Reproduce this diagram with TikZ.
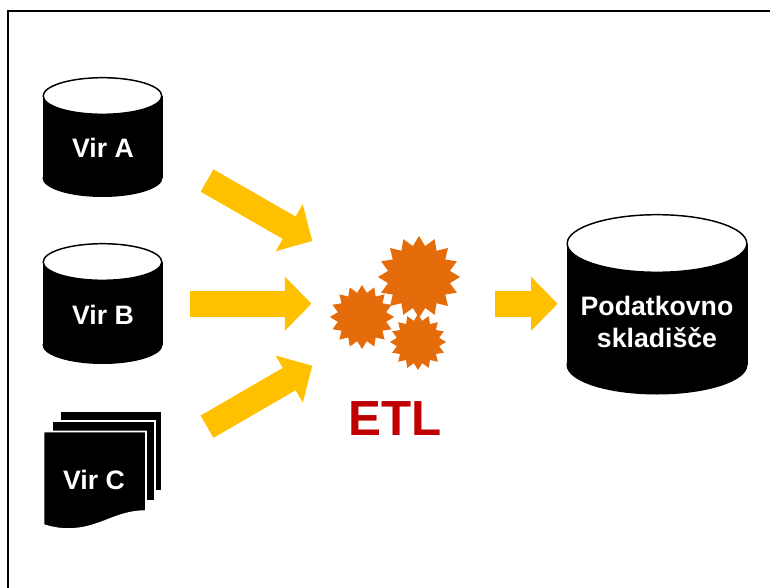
\documentclass[tikz,border=0pt]{standalone}
\usepackage{fontspec}
\setmainfont{Liberation Sans}
\usetikzlibrary{arrows.meta}
\usetikzlibrary{shapes.geometric}
\definecolor{flowcol}{HTML}{FFC000}
\definecolor{gearcol}{HTML}{E46C0A}
\definecolor{etlcol}{HTML}{C00000}
\tikzset{inlabel/.style={text=white,font=\bfseries\fontsize{20}{24}\selectfont,align=center}}
\tikzset{flow/.style={flowcol,line width=19.3pt,-{Triangle[length=20pt,width=39.5pt]}}}
\tikzset{gear/.style={star,star points=16,star point ratio=1.3,fill=gearcol,inner sep=0pt}}
\tikzset{sheet/.style={fill=black,draw=white,line width=1.2pt}}
\tikzset{rimline/.style={draw=black,fill=white,line width=1.1pt}}
% centre x, top rim y, bottom rim y, x radius, y radius
\newcommand{\barrel}[5]{
    \fill (#1-#4,#2) rectangle (#1+#4,#3);
    \fill (#1,#3) ellipse [x radius=#4,y radius=#5];
    \path[rimline] (#1,#2) ellipse [x radius=#4-0.7,y radius=#5-0.7];
}
\begin{document}
\begin{tikzpicture}[x=0.75pt,y=-0.75pt]
    \useasboundingbox (0,0) rectangle (770,588);
    \draw[line width=0.8pt] (8,588) -- (8,11) -- (770,11);

    \barrel{102.5}{96}{178}{60}{19}
    \barrel{102.5}{262}{345}{60}{19}
    \barrel{657}{243.5}{365}{90.5}{29.5}
    \node[inlabel] (virA) at (103,148) {Vir A};
    \node[inlabel] (virB) at (103,315) {Vir B};
    \node[inlabel] (skl) at (657,322) {Podatkovno\\skladišče};

    \path[sheet] (60,411) -- (162,411) -- (162,491) -- (60,491) -- cycle;
    \path[sheet] (52,421) -- (155,421) -- (155,501) -- (52,501) -- cycle;
    \path[sheet] (43.5,431.5) -- (146,431.5) -- (146,511) .. controls (115,511) and (100,529) .. (68,529) .. controls (58,529) and (50,527) .. (43.5,525) -- cycle;
    \node[inlabel] (virC) at (94,480) {Vir C};

    \coordinate (a1) at (207,180.5);
    \coordinate (a2) at (312.3,241);
    \coordinate (b1) at (190,303.7);
    \coordinate (b2) at (311.5,303.7);
    \coordinate (c1) at (207,426.7);
    \coordinate (c2) at (312.3,365.7);
    \coordinate (d1) at (495,303.8);
    \coordinate (d2) at (557.7,303.8);
    \draw[flow] (a1) -- (a2);
    \draw[flow] (b1) -- (b2);
    \draw[flow] (c1) -- (c2);
    \draw[flow] (d1) -- (d2);

    \node[gear,minimum size=61.5pt] (gearA) at (419,277) {};
    \node[gear,minimum size=48pt] (gearB) at (362,317) {};
    \node[gear,minimum size=42pt] (gearC) at (418,342) {};
    \node[text=etlcol,font=\bfseries\fontsize{37}{44}\selectfont] (etl) at (395,418.5) {ETL};
\end{tikzpicture}
\end{document}
